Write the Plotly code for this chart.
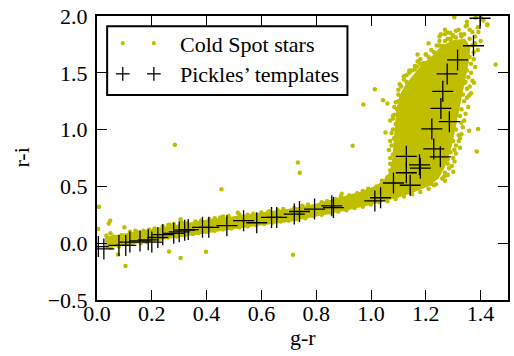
import plotly.graph_objects as go

# ---------------- data ----------------
# Pickles' templates (g-r, r-i)
pickles_gr = [0.005, 0.025, 0.08, 0.105, 0.12, 0.157, 0.187, 0.20, 0.222, 0.24,
              0.28, 0.30, 0.32, 0.333, 0.385, 0.408, 0.474, 0.535, 0.583, 0.637,
              0.656, 0.72, 0.739, 0.794, 0.857, 0.863, 1.014, 1.035, 1.082, 1.129,
              1.129, 1.143, 1.177, 1.18, 1.222, 1.229, 1.253, 1.255, 1.262, 1.278,
              1.286, 1.316, 1.374, 1.398]
pickles_ri = [-0.03, -0.05, -0.02, -0.02, 0.01, 0.02, 0.03, 0.01, 0.05, 0.075,
              0.087, 0.10, 0.115, 0.12, 0.14, 0.14, 0.154, 0.198, 0.18, 0.227,
              0.227, 0.256, 0.279, 0.30, 0.329, 0.314, 0.372, 0.40, 0.53, 0.62,
              0.765, 0.51, 0.69, 0.66, 1.006, 0.83, 0.76, 1.186, 1.337, 1.49,
              1.07, 1.613, 1.738, 1.98]

# Cold Spot stars: outline of the densest (fully overlapping) region
core_gr = [0.03, 0.10, 0.20, 0.30, 0.40, 0.50, 0.60, 0.70, 0.80, 0.90, 0.97, 1.02,
           1.05, 1.075, 1.085, 1.09, 1.095, 1.10, 1.11, 1.13, 1.16, 1.19, 1.23, 1.26,
           1.30, 1.34, 1.355, 1.35, 1.34, 1.33, 1.32, 1.31, 1.30, 1.29, 1.275, 1.26,
           1.24, 1.21, 1.15, 1.10, 1.05, 1.00, 0.90, 0.80, 0.70, 0.60, 0.50, 0.40,
           0.30, 0.20, 0.10, 0.03]
core_ri = [0.04, 0.07, 0.11, 0.155, 0.19, 0.22, 0.25, 0.285, 0.33, 0.39, 0.44, 0.49,
           0.54, 0.62, 0.75, 0.90, 1.05, 1.18, 1.28, 1.38, 1.47, 1.56, 1.64, 1.72,
           1.77, 1.78, 1.72, 1.60, 1.48, 1.36, 1.22, 1.10, 1.00, 0.88, 0.76, 0.66,
           0.58, 0.52, 0.46, 0.42, 0.39, 0.355, 0.30, 0.25, 0.205, 0.175, 0.14, 0.11,
           0.075, 0.035, 0.00, -0.03]

# Cold Spot stars: individually resolved points (edges and outliers)
stars_gr = [
    # upper edge of the band
    0.06, 0.09, 0.12, 0.14, 0.17, 0.19, 0.21, 0.24, 0.26, 0.28, 0.31, 0.33, 0.36, 0.38,
    0.41, 0.43, 0.46, 0.48, 0.52, 0.55, 0.57, 0.60, 0.63, 0.66, 0.68, 0.72, 0.75, 0.77,
    0.82, 0.84, 0.87, 0.89, 0.92, 0.95, 0.97, 0.99, 1.02, 1.04, 1.06, 1.07,
    # lower edge of the band
    0.05, 0.08, 0.11, 0.13, 0.16, 0.18, 0.21, 0.23, 0.26, 0.29, 0.32, 0.35, 0.37, 0.40,
    0.43, 0.46, 0.49, 0.52, 0.55, 0.58, 0.61, 0.64, 0.67, 0.70, 0.73, 0.76, 0.79, 0.82,
    0.85, 0.88, 0.91, 0.94, 0.97, 1.00, 1.03, 1.06, 1.09, 1.12, 1.15, 1.18, 1.21, 1.23,
    # left edge of the cloud
    1.07, 1.08, 1.075, 1.085, 1.08, 1.09, 1.085, 1.095, 1.10, 1.11, 1.12, 1.11, 1.13,
    1.12, 1.14, 1.16, 1.18, 1.21, 1.23, 1.25, 1.29, 1.31, 1.33, 1.15, 1.17, 1.20,
    1.075, 1.07, 1.065, 1.07, 1.075, 1.07, 1.08, 1.085, 1.09, 1.10, 1.10, 1.105, 1.12,
    1.13, 1.14, 1.16, 1.18, 1.17, 1.20, 1.22, 1.24, 1.21, 1.27, 1.25,
    # top of the cloud
    1.30, 1.34, 1.36, 1.37, 1.32, 1.39, 1.35, 1.41, 1.28, 1.25, 1.27, 1.30,
    1.29, 1.31, 1.33, 1.27, 1.36, 1.38, 1.40,
    # right edge of the cloud
    1.37, 1.375, 1.36, 1.365, 1.35, 1.355, 1.345, 1.35, 1.335, 1.34, 1.33, 1.325, 1.33,
    1.31, 1.32, 1.30, 1.31, 1.29, 1.30, 1.28, 1.285, 1.27, 1.26,
    1.38, 1.39, 1.375, 1.38, 1.365, 1.37, 1.36, 1.365, 1.35, 1.355, 1.345, 1.34, 1.335,
    1.33, 1.32, 1.325, 1.31, 1.305, 1.295, 1.30, 1.28, 1.27,
    # outliers
    0.284, 1.014, 0.972, 1.044, 1.053, 0.933, 0.733, 0.74, 1.455, 1.386, 1.391, 1.358,
    1.424, 1.40, 1.304, 1.255, 1.28, 1.346, 1.328, 0.454, 0.007, 0.004, 0.048, 0.043,
    0.034, 0.049, 0.10, 0.077, 0.104, 0.263, 0.305, 0.398, 0.305, 0.265, 0.715, 0.514,
    0.45, 0.148, 0.172, 0.625, 0.893, 1.268, 1.237, 1.084, 1.08, 1.06, 1.117, 1.168,
    1.193, 1.289, 1.262, 1.341, 1.376, 1.358, 1.325, 1.304, 1.28, 1.219, 1.392, 1.425,
    1.382, 1.35,
]
stars_ri = [
    0.06, 0.07, 0.10, 0.11, 0.11, 0.12, 0.13, 0.15, 0.16, 0.17, 0.18, 0.175, 0.19, 0.20,
    0.21, 0.22, 0.235, 0.24, 0.25, 0.25, 0.26, 0.27, 0.28, 0.29, 0.30, 0.31, 0.33, 0.34,
    0.36, 0.37, 0.39, 0.41, 0.42, 0.44, 0.46, 0.48, 0.50, 0.55, 0.58, 0.64,
    -0.04, -0.03, -0.01, 0.0, 0.0, 0.01, 0.03, 0.04, 0.05, 0.06, 0.07, 0.08, 0.09, 0.10,
    0.11, 0.12, 0.13, 0.14, 0.15, 0.16, 0.17, 0.18, 0.19, 0.20, 0.21, 0.22, 0.24, 0.25,
    0.27, 0.28, 0.29, 0.31, 0.32, 0.34, 0.36, 0.37, 0.39, 0.41, 0.43, 0.45, 0.48, 0.51,
    0.70, 0.78, 0.86, 0.92, 1.00, 1.05, 1.13, 1.18, 1.25, 1.29, 1.33, 1.38, 1.42,
    1.47, 1.50, 1.53, 1.58, 1.64, 1.68, 1.74, 1.79, 1.81, 1.83, 1.52, 1.60, 1.66,
    0.62, 0.75, 0.82, 0.90, 0.97, 1.08, 1.12, 1.20, 1.24, 1.31, 1.35, 1.40, 1.44,
    1.48, 1.52, 1.56, 1.62, 1.66, 1.66, 1.70, 1.74, 1.76, 1.78, 1.82,
    1.82, 1.84, 1.80, 1.86, 1.88, 1.90, 1.95, 1.96, 1.80, 1.78, 1.84, 1.83,
    1.85, 1.87, 1.82, 1.88, 1.88, 1.82, 1.78,
    1.74, 1.68, 1.64, 1.58, 1.52, 1.46, 1.42, 1.36, 1.31, 1.25, 1.18, 1.12, 1.06,
    1.00, 0.95, 0.90, 0.86, 0.80, 0.75, 0.70, 0.66, 0.62, 0.57,
    1.76, 1.70, 1.62, 1.55, 1.50, 1.43, 1.38, 1.32, 1.28, 1.20, 1.14, 1.08, 1.02,
    0.96, 0.90, 0.84, 0.79, 0.72, 0.68, 0.63, 0.60, 0.55,
    0.867, 1.355, 1.22, 1.259, 0.974, 0.858, 0.71, 0.62, 1.573, 0.808, 1.006, 0.99,
    1.918, 1.985, 1.99, 1.84, 1.854, 1.91, 1.84, 0.474, 0.32, 0.125, 0.198, 0.174,
    0.067, 0.087, 0.14, -0.099, -0.20, -0.072, -0.13, -0.075, 0.21, 0.163, -0.101, 0.268,
    0.227, 0.096, 0.096, 0.276, 0.436, 0.59, 0.518, 0.924, 1.098, 1.229, 1.317, 1.555,
    1.587, 1.80, 1.738, 1.41, 1.412, 1.30, 0.924, 0.823, 0.736, 0.523, 1.86, 1.927,
    1.985, 1.92,
]

x_ticks = [0.0, 0.2, 0.4, 0.6, 0.8, 1.0, 1.2, 1.4]
y_ticks = [-0.5, 0.0, 0.5, 1.0, 1.5, 2.0]
legend_labels = ["Cold Spot stars", "Pickles\u2019 templates"]

# ---------------- style ----------------
YEL = "#bfbf00"
FONT = "Liberation Serif, Times New Roman, serif"

fig = go.Figure()
fig.add_trace(go.Scatter(x=core_gr, y=core_ri, mode="lines", fill="toself",
                         fillcolor=YEL, line=dict(color=YEL, width=4),
                         hoverinfo="skip", showlegend=False))
fig.add_trace(go.Scatter(x=stars_gr, y=stars_ri, mode="markers", name=legend_labels[0],
                         marker=dict(symbol="circle", size=4.5, color=YEL, line=dict(width=0)),
                         showlegend=False))
fig.add_trace(go.Scatter(x=pickles_gr, y=pickles_ri, mode="markers", name=legend_labels[1],
                         marker=dict(symbol="cross-thin", size=15,
                                     line=dict(color="black", width=1.3)),
                         showlegend=False))

axis_common = dict(showline=True, linecolor="black", linewidth=2, mirror="ticks",
                   ticks="inside", ticklen=10, tickwidth=1.2, tickcolor="black",
                   showgrid=False, zeroline=False,
                   tickfont=dict(family=FONT, size=22, color="black"))
fig.update_xaxes(range=[0, 1.5], tickvals=x_ticks, ticklabelstandoff=-7,
                 ticktext=[f"{v:.1f}" for v in x_ticks], **axis_common)
fig.update_yaxes(range=[-0.5, 2.0], tickvals=y_ticks, ticklabelstandoff=3,
                 ticktext=[f"{v:.1f}".replace("-", "\u2212") for v in y_ticks], **axis_common)

# ---- legend drawn by hand (matplotlib style, two sample markers) ----
shapes = [dict(type="rect", xref="x", yref="y", x0=0.037, x1=0.914, y0=1.304, y1=1.91,
               line=dict(color="black", width=2), fillcolor="white", layer="above")]
for xc in (0.094, 0.2075):
    shapes.append(dict(type="circle", xref="x", yref="y",
                       x0=xc - 0.0075, x1=xc + 0.0075, y0=1.761 - 0.018, y1=1.761 + 0.018,
                       fillcolor=YEL, line=dict(width=0), layer="above"))
    shapes.append(dict(type="line", xref="x", yref="y", x0=xc - 0.025, x1=xc + 0.025,
                       y0=1.491, y1=1.491, line=dict(color="black", width=1.3), layer="above"))
    shapes.append(dict(type="line", xref="x", yref="y", x0=xc, x1=xc,
                       y0=1.491 - 0.061, y1=1.491 + 0.061,
                       line=dict(color="black", width=1.3), layer="above"))

annotations = [
    dict(x=0.2945, y=1.752, xref="x", yref="y", text=legend_labels[0], showarrow=False,
         xanchor="left", yanchor="middle", font=dict(family=FONT, size=22, color="black")),
    dict(x=0.2945, y=1.488, xref="x", yref="y", text=legend_labels[1], showarrow=False,
         xanchor="left", yanchor="middle", font=dict(family=FONT, size=22, color="black")),
    dict(x=0.5, y=-0.131, xref="paper", yref="paper", text="g-r", showarrow=False,
         xanchor="center", yanchor="middle", font=dict(family=FONT, size=22, color="black")),
    dict(x=-0.186, y=0.5, xref="paper", yref="paper", text="r-i", showarrow=False,
         textangle=-90, xanchor="center", yanchor="middle",
         font=dict(family=FONT, size=22, color="black")),
]

fig.update_layout(width=514, height=356, margin=dict(l=97, r=4, t=13, b=56),
                  plot_bgcolor="white", paper_bgcolor="white",
                  font=dict(family=FONT),
                  shapes=shapes, annotations=annotations, showlegend=False)

fig.write_html("out.html")
